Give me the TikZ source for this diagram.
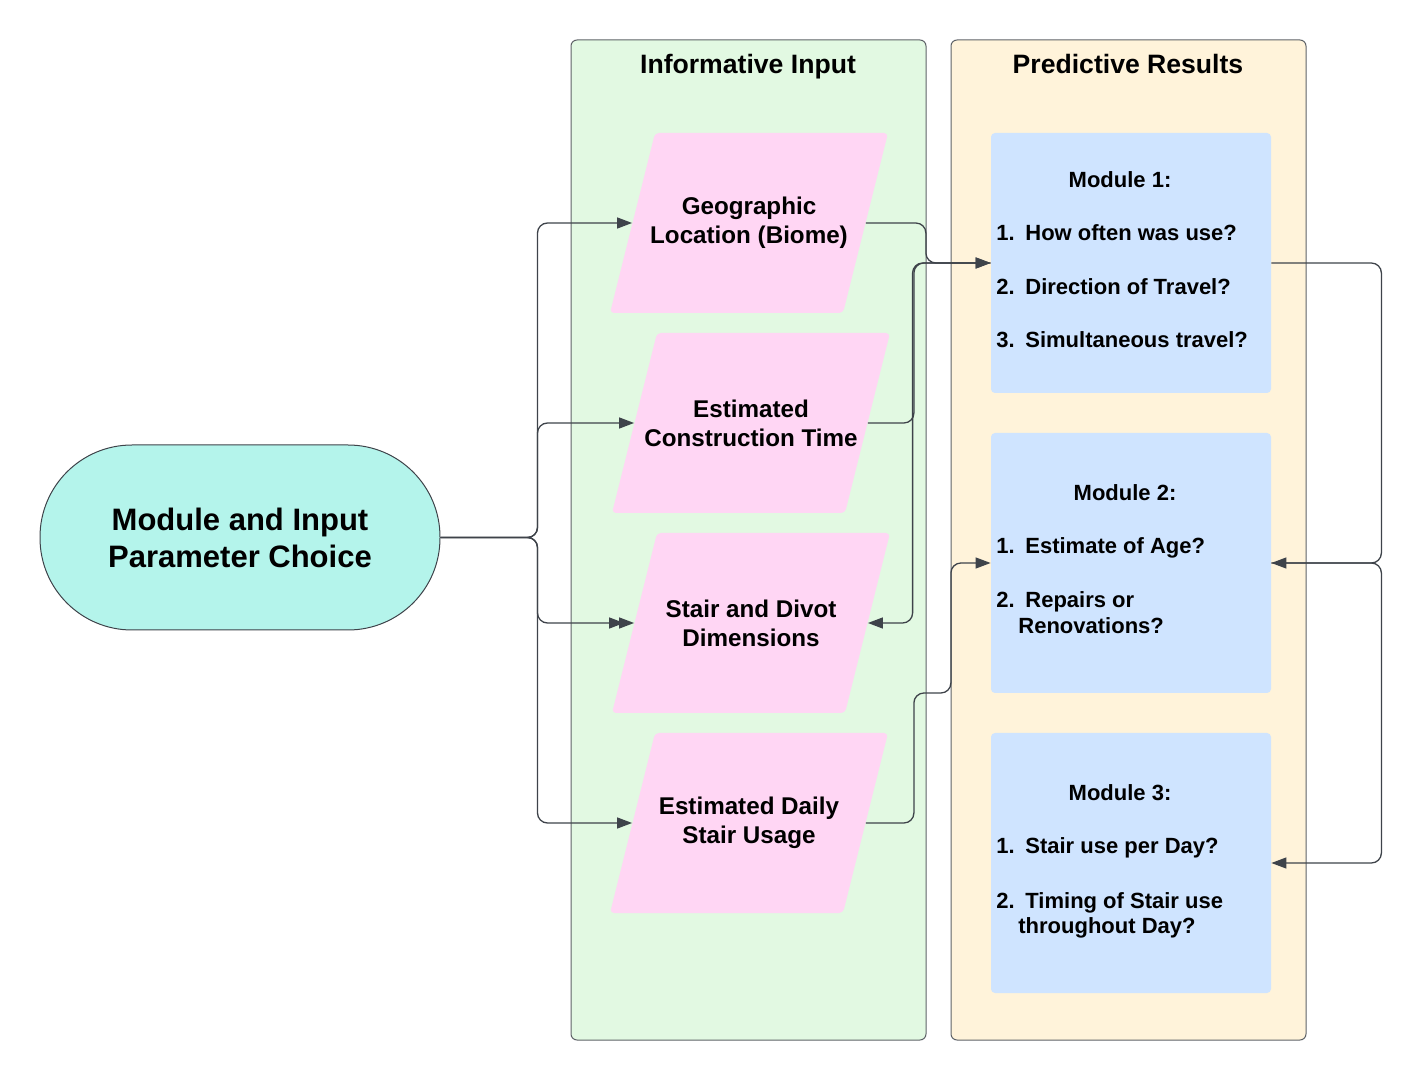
\documentclass[tikz,border=0pt]{standalone}
\usepackage{fontspec}
\setmainfont{Liberation Sans}
\usetikzlibrary{arrows.meta, calc}

\definecolor{LaneGreen}{RGB}{226, 249, 226}
\definecolor{LaneYellow}{RGB}{255, 243, 218}
\definecolor{LaneBorder}{RGB}{95, 99, 104}
\definecolor{InputPink}{RGB}{255, 214, 244}
\definecolor{ModuleBlue}{RGB}{207, 228, 255}
\definecolor{StartTeal}{RGB}{180, 244, 235}
\definecolor{FlowGray}{RGB}{62, 67, 74}

\tikzset{
  lane/.style={draw=LaneBorder, line width=0.5pt, rounded corners=3pt,
    minimum width=177.5pt, minimum height=500pt, inner sep=0pt},
  lanetitle/.style={anchor=base, font=\fontsize{13.3}{16}\selectfont\bfseries},
  inputnode/.style={minimum width=116.5pt, minimum height=90pt, inner sep=0pt,
    align=center, font=\fontsize{12.1}{14.5}\selectfont\bfseries},
  modbox/.style={fill=ModuleBlue, rounded corners=2pt, minimum width=140pt,
    minimum height=130pt, inner sep=0pt},
  modtext/.style={inner sep=0pt, font=\fontsize{11}{13}\selectfont\bfseries},
  flow/.style={draw=FlowGray, line width=0.65pt, rounded corners=5pt,
    -{Triangle[length=7.5pt, width=5.5pt]}}
}

\newcommand{\itemno}[1]{\makebox[14.5pt][l]{#1}}

\begin{document}
\begin{tikzpicture}[x=0.5pt, y=-0.5pt]
  \useasboundingbox (0,0) rectangle (1421,1080);

  % swimlanes
  \node[lane, fill=LaneGreen] (inlane) at (748.5,540) {};
  \node[lane, fill=LaneYellow] (outlane) at (1128.5,540) {};
  \node[lanetitle] (intitle) at (748,74) {Informative Input};
  \node[lanetitle] (outtitle) at (1128,74) {Predictive Results};

  % start
  \node[draw=FlowGray, line width=0.5pt, fill=StartTeal, rounded corners=46pt,
    minimum width=200pt, minimum height=92.5pt, align=center,
    font=\fontsize{15.5}{18.5}\selectfont\bfseries] (start) at (240,537.5)
    {Module and Input\\Parameter Choice};

  % inputs
  \foreach \name/\x/\y/\txt in {geo/749/223/{Geographic\\Location (Biome)},
      cons/751/423/{Estimated\\Construction Time},
      dims/751/623/{Stair and Divot\\Dimensions},
      usage/749/823/{Estimated Daily\\Stair Usage}} {
    \fill[InputPink, rounded corners=2pt] (\x-94,\y-90) -- (\x+139,\y-90)
      -- (\x+94,\y+90) -- (\x-139,\y+90) -- cycle;
    \node[inputnode] (\name) at (\x,\y) {\txt};
  }

  % modules
  \foreach \name/\y in {mod1/263, mod2/563, mod3/863}
    \node[modbox] (\name) at (1131,\y) {};

  \node[modtext, anchor=base] (m1t) at (1120,188) {Module 1:};
  \node[modtext, anchor=base west] (m1a) at (996,241) {\itemno{1.}How often was use?};
  \node[modtext, anchor=base west] (m1b) at (996,295) {\itemno{2.}Direction of Travel?};
  \node[modtext, anchor=base west] (m1c) at (996,348) {\itemno{3.}Simultaneous travel?};

  \node[modtext, anchor=base] (m2t) at (1125,501) {Module 2:};
  \node[modtext, anchor=base west] (m2a) at (996,554) {\itemno{1.}Estimate of Age?};
  \node[modtext, anchor=base west] (m2b) at (996,608) {\itemno{2.}Repairs or};
  \node[modtext, anchor=base west] (m2c) at (1018,634) {Renovations?};

  \node[modtext, anchor=base] (m3t) at (1120,801) {Module 3:};
  \node[modtext, anchor=base west] (m3a) at (996,854) {\itemno{1.}Stair use per Day?};
  \node[modtext, anchor=base west] (m3b) at (996,908) {\itemno{2.}Timing of Stair use};
  \node[modtext, anchor=base west] (m3c) at (1018,934) {throughout Day?};

  % connectors
  \draw[flow] (start.east) -- ++(97,0) |- (geo.west);
  \draw[flow] (start.east) -- ++(97,0) |- (cons.west);
  \draw[flow, -{Triangle[length=7.5pt, width=5.5pt, sep=-2.5pt]Triangle[length=7.5pt, width=5.5pt]}]
    (start.east) -- ++(97,0) |- (dims.west);
  \draw[flow] (start.east) -- ++(97,0) |- (usage.west);

  \draw[flow] (geo.east) -- ++(60,0) |- (mod1.west);
  \draw[flow] (cons.east) -- ++(46,0) |- (mod1.west);
  \draw[flow] (mod1.west) -- ++(-78,0) |- (dims.east);
  \draw[flow] (usage.east) -- ++(48,0) -- ++(0,-130) -- ++(37,0) |- (mod2.west);

  \draw[flow] (mod1.east) -- ++(110,0) |- (mod2.east);
  \draw[flow] (mod2.east) -- ++(110,0) |- (mod3.east);
\end{tikzpicture}
\end{document}
